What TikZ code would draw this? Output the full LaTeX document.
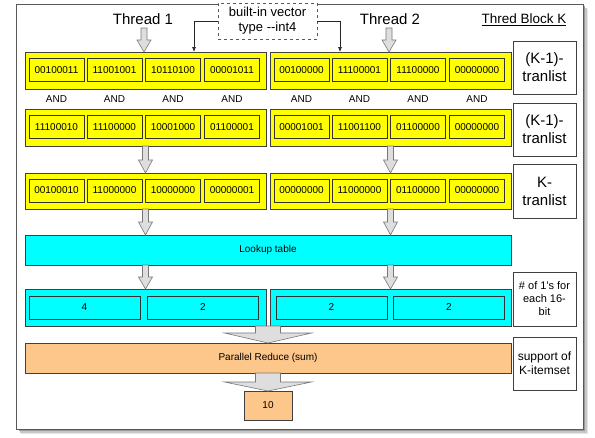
\documentclass[tikz,border=0pt]{standalone}
\usepackage{fontspec}
\setmainfont{Liberation Sans}
\usetikzlibrary{arrows.meta,calc}
\definecolor{peach}{RGB}{253,198,138}
\definecolor{aqua}{RGB}{0,255,255}
\definecolor{yel}{RGB}{255,255,0}
\definecolor{arrowfill}{RGB}{222,222,222}
\definecolor{arrowline}{RGB}{120,120,120}
\newcommand\blockarrow[5]{%
  \draw[barrow] let \p1=(#1), \p2=(#2) in
    (\x1-#3pt,\y1) -- (\x1-#3pt,\y2+#5pt) -- (\x1-#4pt,\y2+#5pt) -- (\x1,\y2)
    -- (\x1+#4pt,\y2+#5pt) -- (\x1+#3pt,\y2+#5pt) -- (\x1+#3pt,\y1) -- cycle;
}
\begin{document}
\begin{tikzpicture}[x=1pt,y=-1pt,
  every node/.style={inner sep=0pt, outer sep=0pt},
  frame/.style={draw=black!65, fill=white, line width=0.8pt},
  yblock/.style={draw=black!75, fill=yel, line width=0.7pt, minimum width=241pt, minimum height=37pt},
  ybox/.style={draw=black!80, fill=yel, line width=0.7pt, minimum width=55pt, minimum height=23pt, font=\fontsize{10}{12}\selectfont},
  cblock/.style={draw=black!75, fill=aqua, line width=0.7pt},
  cbox/.style={draw=black!80, fill=aqua, line width=0.7pt, minimum width=111pt, minimum height=23pt, font=\fontsize{10}{12}\selectfont},
  oblock/.style={draw=black!75, fill=peach, line width=0.7pt, font=\fontsize{10}{12}\selectfont},
  lbox/.style={draw=black!75, fill=white, line width=0.7pt, minimum width=63pt, align=center},
  andlbl/.style={font=\fontsize{10}{12}\selectfont},
  barrow/.style={draw=arrowline, fill=arrowfill, line width=0.6pt, line join=miter},
  conn/.style={draw=black!85, line width=0.7pt, -{Latex[length=5pt,width=4pt]}},
]
\useasboundingbox (0,0) rectangle (595,437);
% frame with shadow
\fill[black!10] (20.5,8.5) rectangle (587.5,433.5);
\fill[black!22] (19.5,7.5) rectangle (586.5,432.5);
\fill[black!40] (18.5,6) rectangle (585,431);
\node[frame, minimum width=567pt, minimum height=425pt] (frame) at (299.5,216.5) {};

% titles
\node[font=\fontsize{15}{18}\selectfont] (th1) at (143,19) {Thread 1};
\node[font=\fontsize{15}{18}\selectfont] (th2) at (390,19) {Thread 2};
\node[font=\fontsize{13.5}{16}\selectfont] (tbk) at (524,20) {\underline{Thred Block K}};
\node[draw=black!65, dashed, line width=0.7pt, fill=white, minimum width=99pt, minimum height=36pt,
      align=center, font=\fontsize{13}{15}\selectfont] (vec) at (267.5,21) {built-in vector\\type -{}-int4};

% yellow rows
\node[yblock] (r1L) at (145.5,70.5) {};
\node[yblock] (r1R) at (390.5,70.5) {};
\node[yblock] (r2L) at (145.5,127.5) {};
\node[yblock] (r2R) at (390.5,127.5) {};
\node[yblock, minimum height=36pt] (r3L) at (145.5,191) {};
\node[yblock, minimum height=36pt] (r3R) at (390.5,191) {};

\foreach \v [count=\i] in {00100011,11001001,10110100,00001011}{
  \pgfmathsetmacro\xx{{56.5,114.5,173,232}[\i-1]}
  \node[ybox] (a\i) at (\xx,70) {\v};
  \node[andlbl] (and\i) at (\xx,99) {AND};
}
\foreach \v [count=\i] in {00100000,11100001,11100000,00000000}{
  \pgfmathsetmacro\xx{{301.5,359.5,418,477}[\i-1]}
  \node[ybox] (b\i) at (\xx,70) {\v};
  \node[andlbl] (andb\i) at (\xx,99) {AND};
}
\foreach \v [count=\i] in {11100010,11100000,10001000,01100001}{
  \pgfmathsetmacro\xx{{56.5,114.5,173,232}[\i-1]}
  \node[ybox] (c\i) at (\xx,127) {\v};
}
\foreach \v [count=\i] in {00001001,11001100,01100000,00000000}{
  \pgfmathsetmacro\xx{{301.5,359.5,418,477}[\i-1]}
  \node[ybox] (d\i) at (\xx,127) {\v};
}
\foreach \v [count=\i] in {00100010,11000000,10000000,00000001}{
  \pgfmathsetmacro\xx{{56.5,114.5,173,232}[\i-1]}
  \node[ybox] (e\i) at (\xx,190.5) {\v};
}
\foreach \v [count=\i] in {00000000,11000000,01100000,00000000}{
  \pgfmathsetmacro\xx{{301.5,359.5,418,477}[\i-1]}
  \node[ybox] (f\i) at (\xx,190.5) {\v};
}

% lookup table
\node[cblock, minimum width=486pt, minimum height=30pt, font=\fontsize{10}{12}\selectfont] (lut) at (268,250) {Lookup table};

% count row
\node[cblock, minimum width=241pt, minimum height=37pt] (r5L) at (145.5,307.5) {};
\node[cblock, minimum width=241pt, minimum height=37pt] (r5R) at (390.5,307.5) {};
\node[cbox] (g1) at (84.5,307.5) {4};
\node[cbox] (g2) at (203,307.5) {2};
\node[cbox] (g3) at (331.5,307.5) {2};
\node[cbox] (g4) at (449,307.5) {2};

% reduce
\node[oblock, minimum width=486pt, minimum height=30pt] (red) at (268,358) {Parallel Reduce (sum)};
\node[oblock, minimum width=48pt, minimum height=29pt] (ten) at (268,405.5) {10};

% right labels
\node[lbox, minimum height=53pt, font=\fontsize{15}{18}\selectfont] (l1) at (544.5,67.5) {(K-1)-\\tranlist};
\node[lbox, minimum height=53pt, font=\fontsize{15}{18}\selectfont] (l2) at (544.5,129.5) {(K-1)-\\tranlist};
\node[lbox, minimum height=54pt, font=\fontsize{15}{18}\selectfont] (l3) at (544.5,191) {K-\\tranlist};
\node[lbox, minimum height=54pt, font=\fontsize{11}{13}\selectfont] (l4) at (544.5,299) {\# of 1\textquotesingle s for\\each 16-\\bit};
\node[lbox, minimum height=53pt, font=\fontsize{12}{14}\selectfont] (l5) at (544.5,363.5) {support of\\K-itemset};

% vector connectors
\coordinate (vt1) at (194,52);
\coordinate (vt2) at (340,52);
\draw[conn] (vec.west) -| (vt1);
\draw[conn] (vec.east) -| (vt2);

% small block arrows
\coordinate (ta1) at (144,28);
\coordinate (ta2) at (389,28);
\coordinate (te1) at (144,52);
\coordinate (te2) at (389,52);
\blockarrow{ta1}{te1}{3}{7}{12}
\blockarrow{ta2}{te2}{3}{7}{12}
\blockarrow{r2L.south}{r3L.north}{3}{7}{13}
\blockarrow{r2R.south}{r3R.north}{3}{7}{13}
\coordinate (lt1) at (lut.north -| r3L.south);
\coordinate (lt2) at (lut.north -| r3R.south);
\blockarrow{r3L.south}{lt1}{3}{7}{13}
\blockarrow{r3R.south}{lt2}{3}{7}{13}
\coordinate (lb1) at (lut.south -| r5L.north);
\coordinate (lb2) at (lut.south -| r5R.north);
\blockarrow{lb1}{r5L.north}{3}{7}{12}
\blockarrow{lb2}{r5R.north}{3}{7}{12}

% big block arrows
\coordinate (bs1) at (r5L.south -| red.north);
\blockarrow{bs1}{red.north}{12.5}{43.5}{10}
\blockarrow{red.south}{ten.north}{12.5}{43.5}{9}
\end{tikzpicture}
\end{document}
